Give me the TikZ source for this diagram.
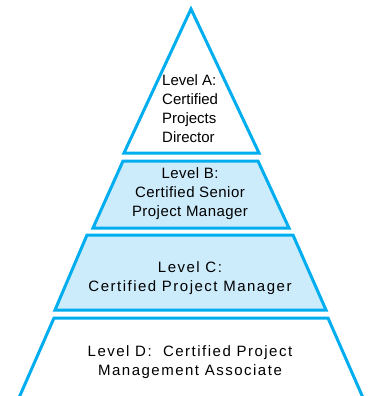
\documentclass[tikz,border=0pt]{standalone}
\usepackage{fontspec}
\setmainfont{Liberation Sans}
\newfontfamily\widefont{Liberation Sans}[LetterSpace=10]
\newfontfamily\midfont{Liberation Sans}[LetterSpace=3]
\definecolor{edge}{HTML}{00AEEF}
\definecolor{lightfill}{HTML}{CCEBFB}
\begin{document}
\begin{tikzpicture}[x=1pt,y=-1pt,
  level/.style={draw=edge,line width=3pt,line join=miter},
  lbl/.style={font=\fontsize{15}{19}\selectfont,align=center,inner sep=0pt}]
\useasboundingbox (0,0) rectangle (369,396);
\clip (0,0) rectangle (369,396);
\draw[level,fill=white] (191,9) -- (259,153) -- (124,153) -- cycle;
\draw[level,fill=lightfill] (123,161) -- (258,161) -- (289,228) -- (93,228) -- cycle;
\draw[level,fill=lightfill] (87,235) -- (293,235) -- (326,310) -- (55,310) -- cycle;
\draw[level,fill=white] (54,318) -- (328,318) -- (364,400) -- (18,400) -- cycle;
\node[lbl,align=left,anchor=west] (a) at (162,109) {Level A:\\Certified\\Projects\\Director};
\node[lbl,font=\fontsize{15}{19}\midfont] (b) at (190,194) {Level B:\\Certified Senior\\Project Manager};
\node[lbl,font=\fontsize{15}{19}\widefont] (c) at (190,278) {Level C:\\Certified Project Manager};
\node[lbl,font=\fontsize{15}{19}\widefont] (d) at (190,362) {Level D:~ Certified Project\\Management Associate};
\end{tikzpicture}
\end{document}
